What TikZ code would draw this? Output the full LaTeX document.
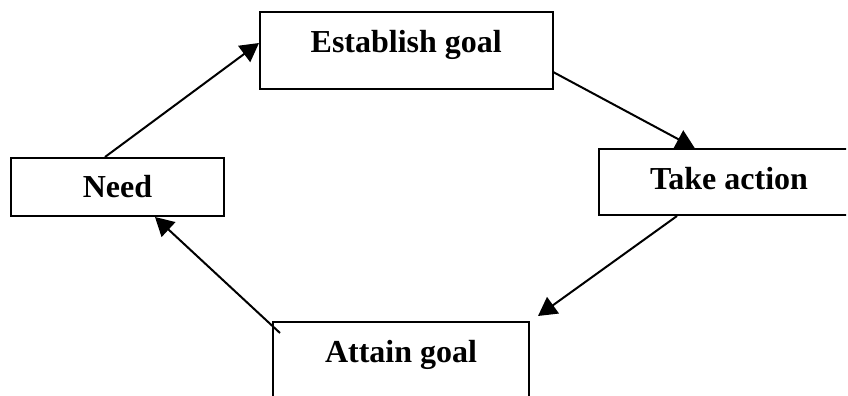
\documentclass[tikz,border=0pt]{standalone}
\usepackage{fontspec}
\setmainfont{Liberation Serif}
\usetikzlibrary{arrows.meta}
\begin{document}
\begin{tikzpicture}[x=0.5pt,y=-0.5pt,
  box/.style={draw,line width=1pt,inner sep=0pt,anchor=north west,font=\fontsize{16}{19}\selectfont\bfseries},
  arr/.style={line width=1pt,-{Triangle[length=9.25pt,width=10pt]}}]
\useasboundingbox (0,0) rectangle (848,396);
\clip (0,0) rectangle (846,396);
\node[box,minimum width=130pt,text height=20pt,text depth=13pt] (take) at (598,148) {Take action};
\node[box,minimum width=146.25pt,text height=20.5pt,text depth=18.15pt] (est) at (259,11) {Establish goal};
\node[box,minimum width=106.5pt,text height=20pt,text depth=9pt] (need) at (10,157) {Need};
\node[box,minimum width=128pt,text height=20pt,text depth=24.5pt] (attain) at (272,321) {Attain goal};
\draw[arr] ([xshift=47.5pt]need.north west) -- ([yshift=-16pt]est.north west);
\draw[arr] ([yshift=-30.6pt]est.north east) -- ([xshift=48.35pt]take.north west);
\draw[arr] ([xshift=39.5pt]take.south west) -- ([xshift=4pt,yshift=2.5pt]attain.north east);
\draw[arr] ([xshift=4pt,yshift=-6pt]attain.north west) -- ([xshift=72.5pt]need.south west);
\end{tikzpicture}
\end{document}
